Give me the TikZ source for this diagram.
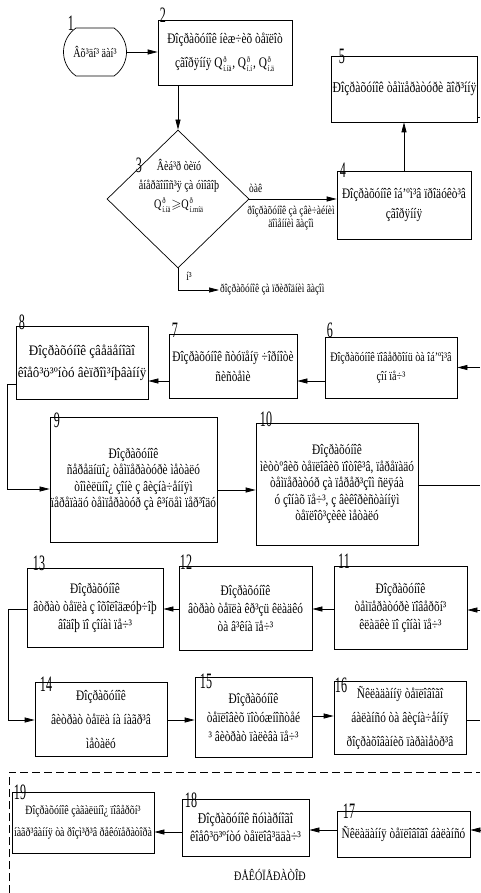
\documentclass[tikz,border=0pt]{standalone}
\usepackage{amsmath,amssymb}
\usepackage{fontspec}
\setmainfont{Liberation Serif}[FakeStretch=0.78]
\newfontfamily\widefont{Liberation Serif}[FakeStretch=0.9]
\newfontfamily\numfont{Liberation Serif}[FakeStretch=0.55]
\usepackage{tikz}
\usetikzlibrary{shapes.geometric,shapes.misc,arrows.meta,positioning}
\newcommand{\Qv}[2]{Q\kern0.8pt\raisebox{-4.5pt}{\fontsize{8.5}{11.5}\selectfont\shortstack[l]{#1\\#2}}\kern0.8pt}

\begin{document}
\begin{tikzpicture}[x=1pt,y=-1pt,
  block/.style={rectangle, draw, line width=0.7pt, align=center, inner sep=1pt,
                font=\fontsize{14.5}{18}\selectfont},
  arrow/.style={-{Triangle[length=10pt,width=5pt]}, line width=0.7pt},
  link/.style={line width=0.7pt},
  num/.style={font=\numfont\fontsize{22}{22}\selectfont, inner sep=0pt},
  note/.style={font=\fontsize{12}{13}\selectfont, align=center, inner sep=1pt}
]
\useasboundingbox (0,0) rectangle (480,893);

% first row
\node[draw, line width=0.7pt, rounded rectangle, rounded rectangle arc length=110,
      minimum width=65pt, minimum height=48pt, inner sep=1pt,
      font=\fontsize{13}{18}\selectfont] (b1) at (95,52) {Âõ³äí³ äàí³};
\node[block, minimum width=134pt, minimum height=65pt, font=\fontsize{14.5}{24}\selectfont] (b2) at (225,52.5)
  {Ðîçðàõóíîê íèæ÷èõ òåïëîò\\çãîðÿííÿ \Qv{ð}{í.íä}, \Qv{ð}{í.í}, \Qv{ð}{í.ä}};
\node[draw, diamond, line width=0.7pt, minimum width=142pt, minimum height=138pt, inner sep=0pt] (dec) at (178,199) {};
\node[align=center, inner sep=0pt, font=\fontsize{13}{19}\selectfont] (dectext) at (179,186)
  {Âèá³ð òèïó\\åíåðãîíîñ³ÿ çà óìîâîþ\\\Qv{ð}{í.íä}$\geqslant$\Qv{ð}{í.míä}};
\node[block, minimum width=134pt, minimum height=68pt, font=\fontsize{14.5}{20}\selectfont] (b4) at (404,205)
  {Ðîçðàõóíîê îá'ºì³â ïðîäóêò³â\\çãîðÿííÿ};
\node[block, minimum width=137pt, minimum height=66pt, font=\fontsize{15}{18}\selectfont] (b5) at (404.5,89)
  {Ðîçðàõóíîê òåìïåðàòóðè ãîð³ííÿ};

\node[note, anchor=south west] (yes) at (248,194) {òàê};
\node[note, anchor=north] (yestext) at (291,205) {ðîçðàõóíîê çà çâè÷àéíèì\\äîìåííèì ãàçîì};
\node[note] (no) at (189,276) {í³};
\node[note, anchor=west] (notext) at (219,290) {ðîçðàõóíîê çà ïðèðîäíèì ãàçîì};

% second row
\node[block, minimum width=132pt, minimum height=61pt, font=\fontsize{13}{19}\selectfont] (b6) at (391,367.5)
  {Ðîçðàõóíîê ïîâåðõîíü òà îá'ºì³â\\çîí ïå÷³};
\node[block, minimum width=128pt, minimum height=64pt, font=\fontsize{14.5}{20}\selectfont] (b7) at (233,366)
  {Ðîçðàõóíîê ñòóïåíÿ ÷îðíîòè\\ñèñòåìè};
\node[block, minimum width=132pt, minimum height=73pt, font=\widefont\fontsize{14.5}{22}\selectfont] (b8) at (82,362.5)
  {Ðîçðàõóíîê çâåäåíîãî\\êîåô³ö³ºíòó âèïðîì³íþâàííÿ};
\node[block, minimum width=165pt, minimum height=125pt, font=\fontsize{14.5}{16.5}\selectfont] (b9) at (133.5,479.5)
  {Ðîçðàõóíîê\\ñåðåäíüî¿ òåìïåðàòóðè ìåòàëó\\òîìèëüíî¿ çîíè ç âèçíà÷åííÿì\\ïåðåïàäó òåìïåðàòóð çà ê³íöåì ïåð³îäó};
\node[block, minimum width=162pt, minimum height=122pt, font=\fontsize{14.5}{16.5}\selectfont] (b10) at (337,484)
  {Ðîçðàõóíîê\\ìèòòºâèõ òåïëîâèõ ïîòîê³â, ïåðåïàäó\\òåìïåðàòóð çà ïåðåð³çîì ñëÿáà\\ó çîíàõ ïå÷³, ç âèêîðèñòàííÿì\\òåïëîô³çèêè ìåòàëó};

% third row
\node[block, minimum width=133pt, minimum height=83pt] (b11) at (400.5,607.5)
  {Ðîçðàõóíîê\\òåìïåðàòóðè ïîâåðõí³\\êëàäêè ïî çîíàì ïå÷³};
\node[block, minimum width=133pt, minimum height=84pt] (b12) at (245.5,608)
  {Ðîçðàõóíîê\\âòðàò òåïëà êð³çü êëàäêó\\òà â³êíà ïå÷³};
\node[block, minimum width=136pt, minimum height=79pt] (b13) at (95,607.5)
  {Ðîçðàõóíîê\\âòðàò òåïëà ç îõîëîäæóþ÷îþ\\âîäîþ ïî çîíàì ïå÷³};
\node[block, minimum width=132pt, minimum height=74pt, font=\fontsize{14.5}{24}\selectfont] (b14) at (101,719)
  {Ðîçðàõóíîê\\âèòðàò òåïëà íà íàãð³â\\ìåòàëó};
\node[block, minimum width=117pt, minimum height=80pt, font=\fontsize{14.5}{19}\selectfont] (b15) at (253.5,717)
  {Ðîçðàõóíîê\\òåïëîâèõ ïîòóæíîñòåé\\³ âèòðàò ïàëèâà ïå÷³};
\node[block, minimum width=132pt, minimum height=73pt, font=\fontsize{14.5}{24}\selectfont] (b16) at (400,717.5)
  {Ñêëàäàííÿ òåïëîâîãî\\áàëàíñó òà âèçíà÷åííÿ\\ðîçðàõîâàíèõ ïàðàìåòð³â};

% recuperator
\node[block, minimum width=133pt, minimum height=46pt] (b17) at (403.5,834)
  {Ñêëàäàííÿ òåïëîâîãî áàëàíñó};
\node[block, minimum width=127pt, minimum height=57pt, font=\fontsize{15}{18}\selectfont] (b18) at (245.5,827.5)
  {Ðîçðàõóíîê ñóìàðíîãî\\êîåô³ö³ºíòó òåïëîâ³ääà÷³};
\node[block, minimum width=142pt, minimum height=61pt, font=\fontsize{12.7}{22}\selectfont] (b19) at (83,822.5)
  {Ðîçðàõóíîê çàãàëüíî¿ ïîâåðõí³\\íàãð³âàííÿ òà ðîçì³ð³â ðåêóïåðàòîðà};
\node[font=\fontsize{13}{13}\selectfont] (rek) at (270,875) {ÐÅÊÓÏÅÐÀÒÎÐ};

% numbers
\node[num] (n1) at (71,23) {1};
\node[num] (n2) at (163,15) {2};
\node[num] (n3) at (139,165) {3};
\node[num] (n4) at (343,170) {4};
\node[num] (n5) at (342,56) {5};
\node[num] (n6) at (330,330) {6};
\node[num] (n7) at (175,330) {7};
\node[num] (n8) at (22,322) {8};
\node[num] (n9) at (57,420) {9};
\node[num] (n10) at (266,419) {10};
\node[num] (n11) at (344,561) {11};
\node[num] (n12) at (186,562) {12};
\node[num] (n13) at (39,563) {13};
\node[num] (n14) at (46,684) {14};
\node[num] (n15) at (206,681) {15};
\node[num] (n16) at (341,685) {16};
\node[num] (n17) at (349,811) {17};
\node[num] (n18) at (191,800) {18};
\node[num] (n19) at (20,792) {19};

% edge points
\coordinate (e5) at (480,117);
\coordinate (e6) at (480,367.5);
\coordinate (e10) at (480,485);
\coordinate (e11) at (480,610);
\coordinate (e16) at (480,720);
\coordinate (e17) at (480,830);
\coordinate (r2) at (0,381);
\coordinate (r3) at (0,490);
\coordinate (r4) at (0,609);
\coordinate (r5) at (0,716);
\coordinate (r6) at (0,832);
\coordinate (k8) at (7,384);
\coordinate (k9) at (7,489);
\coordinate (k13) at (8,609);
\coordinate (k14) at (8,720);
\coordinate (d1) at (9,893);
\coordinate (d2) at (9,772);
\coordinate (d3) at (480,772);

% connectors
\draw[arrow] (b1.east) -- (b1.east -| b2.west);
\draw[arrow] (b2.south -| dec.north) -- (dec.north);
\draw[arrow] (dec.east) -- (dec.east -| b4.west);
\draw[arrow] (b4.north) -- (b4.north |- b5.south);
\draw[arrow] (dec.south) |- (notext.west);
\draw[link] (e5 -| b5.east) -- (e5);
\draw[arrow] (e6) -- (e6 -| b6.east);
\draw[arrow] (r2 -| b6.west) -- (r2 -| b7.east);
\draw[arrow] (r2 -| b7.west) -- (r2 -| b8.east);
\draw[arrow] (k8 -| b8.west) -- (k8) -- (k9) -- (k9 -| b9.west);
\draw[arrow] (r3 -| b9.east) -- (r3 -| b10.west);
\draw[link] (e10 -| b10.east) -- (e10);
\draw[arrow] (e11) -- (e11 -| b11.east);
\draw[arrow] (r4 -| b11.west) -- (r4 -| b12.east);
\draw[arrow] (r4 -| b12.west) -- (r4 -| b13.east);
\draw[arrow] (k13 -| b13.west) -- (k13) -- (k14) -- (k14 -| b14.west);
\draw[arrow] (k14 -| b14.east) -- (k14 -| b15.west);
\draw[arrow] (r5 -| b15.east) -- (r5 -| b16.west);
\draw[link] (e16 -| b16.east) -- (e16);
\draw[arrow] (e17) -- (e17 -| b17.east);
\draw[arrow] (e17 -| b17.west) -- (e17 -| b18.east);
\draw[arrow] (r6 -| b18.west) -- (r6 -| b19.east);
\draw[link, dash pattern=on 8pt off 4pt] (d1) -- (d2) -- (d3);
\end{tikzpicture}
\end{document}
